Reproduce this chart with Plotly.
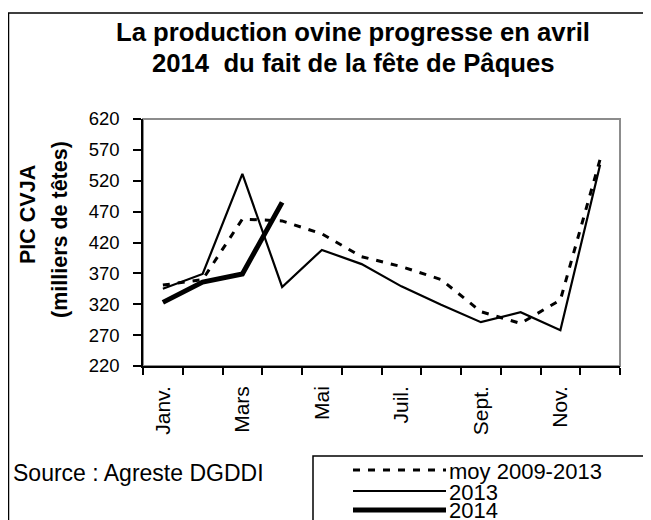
import plotly.graph_objects as go

months = ["Janv.", "Févr.", "Mars", "Avr.", "Mai", "Juin", "Juil.", "Août", "Sept.", "Oct.", "Nov.", "Déc."]
tick_labels = ["Janv.", "", "Mars", "", "Mai", "", "Juil.", "", "Sept.", "", "Nov.", ""]
moy_2009_2013 = [351, 360, 458, 455, 434, 397, 381, 360, 308, 289, 327, 555]
y2013 = [345, 369, 531, 348, 408, 385, 349, 319, 291, 307, 278, 546]
y2014 = [323, 356, 369, 485]
y_ticks = [220, 270, 320, 370, 420, 470, 520, 570, 620]
series_names = ["moy 2009-2013", "2013", "2014"]

FONT = "Liberation Sans, Arial, sans-serif"
STYLES = [dict(color="black", width=3, dash="7px,8px"),
          dict(color="black", width=2.2),
          dict(color="black", width=5)]

# plot area in screen pixels (page has an 8px body margin)
PX0, PX1, PY0, PY1 = 143, 620, 119, 366


def px(x):
    return (x - PX0) / (PX1 - PX0)


def py(y):
    return (PY1 - y) / (PY1 - PY0)


fig = go.Figure()
fig.add_trace(go.Scatter(x=months, y=moy_2009_2013, mode="lines", name=series_names[0], line=STYLES[0]))
fig.add_trace(go.Scatter(x=months, y=y2013, mode="lines", name=series_names[1], line=STYLES[1]))
fig.add_trace(go.Scatter(x=months[:len(y2014)], y=y2014, mode="lines", name=series_names[2],
                         line=STYLES[2]))

fig.update_layout(
    width=651, height=520,
    margin=dict(l=PX0 - 8, r=651 - (PX1 - 8), t=PY0 - 8, b=520 - (PY1 - 8), autoexpand=False),
    paper_bgcolor="white", plot_bgcolor="white",
    font=dict(family=FONT, color="black", size=18),
    showlegend=False,
    xaxis=dict(type="category", categoryorder="array", categoryarray=months,
               tickvals=months, ticktext=tick_labels, tickangle=-90,
               tickson="boundaries", ticks="outside", ticklen=7, tickcolor="black", tickwidth=1.5,
               showline=True, linecolor="black", linewidth=1.5, showgrid=False,
               tickfont=dict(size=21, family=FONT), range=[-0.5, 11.5], ticklabelstandoff=10),
    yaxis=dict(range=[220, 620], tickvals=y_ticks, ticks="outside", ticklen=8, tickwidth=1.5,
               tickcolor="black", showline=True, linecolor="black", linewidth=1.5,
               showgrid=False, zeroline=False, tickfont=dict(size=18.5, family=FONT),
               ticklabelstandoff=10),
)

# frame of the plot area (gray top/right)
fig.add_shape(type="rect", xref="paper", yref="paper", x0=0, x1=1, y0=0, y1=1,
              line=dict(color="#8c8c8c", width=2), layer="below")
# outer border of the chart
fig.add_shape(type="rect", xref="paper", yref="paper", x0=px(8.5), x1=px(700), y0=py(600), y1=py(13),
              line=dict(color="black", width=1.5), layer="below")

fig.add_annotation(text="<b>La production ovine progresse en avril</b>", xref="paper", yref="paper",
                   x=px(353), y=py(32), xanchor="center", yanchor="middle",
                   showarrow=False, font=dict(size=25.7, family=FONT))
fig.add_annotation(text="<b>2014  du fait de la fête de Pâques</b>", xref="paper", yref="paper",
                   x=px(353), y=py(63), xanchor="center", yanchor="middle",
                   showarrow=False, font=dict(size=25.7, family=FONT))
fig.add_annotation(text="<b>PIC CVJA</b>", xref="paper", yref="paper",
                   x=px(28), y=py(215), xanchor="center", yanchor="middle",
                   textangle=-90, showarrow=False, font=dict(size=21.5, family=FONT))
fig.add_annotation(text="<b>(milliers de têtes)</b>", xref="paper", yref="paper",
                   x=px(60), y=py(230), xanchor="center", yanchor="middle",
                   textangle=-90, showarrow=False, font=dict(size=21.5, family=FONT))
fig.add_annotation(text="Source : Agreste DGDDI", xref="paper", yref="paper",
                   x=px(11), y=py(473), xanchor="left", yanchor="middle",
                   showarrow=False, font=dict(size=23, family=FONT))

# legend box with samples
fig.add_shape(type="rect", xref="paper", yref="paper", x0=px(313), x1=px(700), y0=py(600), y1=py(456),
              line=dict(color="black", width=1.5))
for name, style, ly in zip(series_names, STYLES, [470, 491, 510]):
    fig.add_shape(type="line", xref="paper", yref="paper", x0=px(353), x1=px(446), y0=py(ly), y1=py(ly),
                  line=style)
    fig.add_annotation(text=name, xref="paper", yref="paper", x=px(447), y=py(ly + 1),
                       xanchor="left", yanchor="middle", showarrow=False,
                       font=dict(size=22, family=FONT))

fig.write_html("out.html")
